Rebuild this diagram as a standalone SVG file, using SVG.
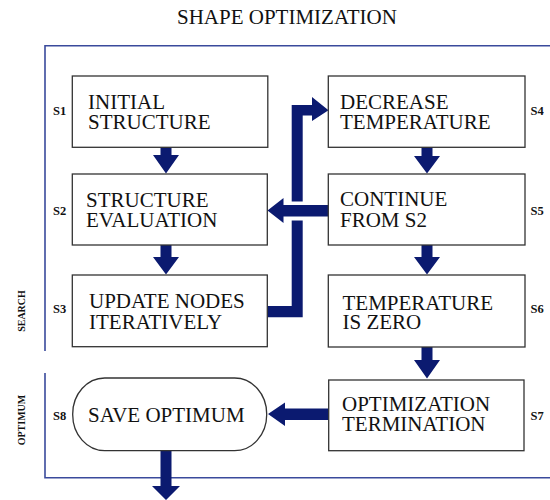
<svg xmlns="http://www.w3.org/2000/svg" width="550" height="500" viewBox="0 0 550 500">
<style>
.box{fill:#fff;stroke:#333;stroke-width:1.3}
.t{font-family:"Liberation Serif","Times New Roman",serif;font-size:21px;fill:#111}
.lb{font-family:"Liberation Serif","Times New Roman",serif;font-size:12.5px;font-weight:bold;fill:#111}
.vl{font-family:"Liberation Serif","Times New Roman",serif;font-size:10px;font-weight:bold;fill:#111}
.frame{fill:none;stroke:#3a4a9c;stroke-width:1.6}
.ar{fill:#0b1a70}
</style>
<rect width="550" height="500" fill="#fff"/>
<text x="177" y="24" class="t">SHAPE OPTIMIZATION</text>
<g id="frame">
<path class="frame" d="M550,45.7 H45 V351"/>
<path class="frame" d="M45,373 V477.7 H550"/>
<text class="vl" transform="translate(25,311) rotate(-90)" text-anchor="middle">SEARCH</text>
<text class="vl" transform="translate(25,420) rotate(-90)" text-anchor="middle">OPTIMUM</text>
</g>
<g id="connectors">
<polygon class="ar" points="160.5,147 171.5,147 171.5,155 179,155 166,173.5 153,155 160.5,155"/>
<polygon class="ar" points="160.5,245 171.5,245 171.5,257 179,257 166,274.5 153,257 160.5,257"/>
<polygon class="ar" points="421.5,147 432.5,147 432.5,156 440,156 427,173.5 414,156 421.5,156"/>
<polygon class="ar" points="421.5,245 432.5,245 432.5,257 440,257 427,274.5 414,257 421.5,257"/>
<polygon class="ar" points="421.5,347 432.5,347 432.5,360 440,360 427,378.5 414,360 421.5,360"/>
<polygon class="ar" points="160.5,451 171.5,451 171.5,486 180,486 166,500 152,486 160.5,486"/>
<polygon class="ar" points="267.5,306 291.7,306 291.7,105 312,105 312,97 328.5,110.3 312,121 312,115.5 302.7,115.5 302.7,317.3 267.5,317.3"/>
<rect x="289" y="201.5" width="16" height="19" fill="#fff"/>
<polygon class="ar" points="328,205 283.5,205 283.5,198 267.5,210.5 283.5,223 283.5,216.5 328,216.5"/>
<polygon class="ar" points="328.5,408.5 285,408.5 285,402.5 268,414 285,426 285,420 328.5,420"/>
</g>
<g id="S1">
<rect class="box" x="72.3" y="76" width="195.5" height="71.3"/>
<text class="t" x="88" y="109">INITIAL<tspan x="88" dy="20">STRUCTURE</tspan></text>
<text class="lb" x="53" y="115">S1</text>
</g>
<g id="S2">
<rect class="box" x="72.3" y="174" width="195" height="71"/>
<text class="t" x="86" y="206.5">STRUCTURE<tspan x="86" dy="20.5">EVALUATION</tspan></text>
<text class="lb" x="53" y="215">S2</text>
</g>
<g id="S3">
<rect class="box" x="72.3" y="275" width="195" height="71.7"/>
<text class="t" x="89" y="308">UPDATE NODES<tspan x="89" dy="21">ITERATIVELY</tspan></text>
<text class="lb" x="53" y="313">S3</text>
</g>
<g id="S4">
<rect class="box" x="328.3" y="76" width="196.7" height="71.3"/>
<text class="t" x="340" y="109">DECREASE<tspan x="340" dy="20">TEMPERATURE</tspan></text>
<text class="lb" x="530.5" y="115">S4</text>
</g>
<g id="S5">
<rect class="box" x="328.3" y="174" width="196.7" height="71"/>
<text class="t" x="340" y="206">CONTINUE<tspan x="340" dy="20.5">FROM S2</tspan></text>
<text class="lb" x="530.5" y="215">S5</text>
</g>
<g id="S6">
<rect class="box" x="328.3" y="275" width="196.7" height="72"/>
<text class="t" x="342.5" y="310">TEMPERATURE<tspan x="342.5" dy="18.5">IS ZERO</tspan></text>
<text class="lb" x="530.5" y="313">S6</text>
</g>
<g id="S7">
<rect class="box" x="328.7" y="380" width="195.3" height="70.7"/>
<text class="t" x="342" y="411">OPTIMIZATION<tspan x="342" dy="20">TERMINATION</tspan></text>
<text class="lb" x="530.5" y="420">S7</text>
</g>
<g id="S8">
<rect class="box" x="72.7" y="378" width="194" height="72.7" rx="32" ry="36"/>
<text class="t" x="88" y="422">SAVE OPTIMUM</text>
<text class="lb" x="53" y="420">S8</text>
</g>
</svg>
